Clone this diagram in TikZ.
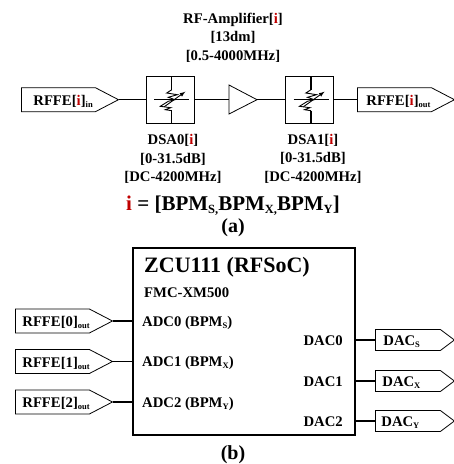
\documentclass[tikz,border=0pt]{standalone}
\usepackage{fontspec}
\setmainfont{Liberation Serif}
\usetikzlibrary{shapes.symbols}
\definecolor{idxred}{RGB}{192,0,0}
\newcommand{\fs}[1]{\fontsize{#1}{#1}\selectfont\bfseries}
\newcommand{\lowsub}[1]{\raisebox{-2.2pt}{\fontsize{8.5}{8.5}\selectfont\bfseries #1}}
\newcommand{\eqsub}[1]{\raisebox{-3pt}{\fontsize{12.5}{12.5}\selectfont\bfseries #1}}
\newcommand{\idx}{\textcolor{idxred}{i}}
\newcommand{\tagtxt}[3]{\raisebox{-5.5pt}[0pt][0pt]{\makebox[#1pt][l]{\hspace*{#2pt}#3}}}
\tikzset{
  x=1pt,y=-1pt,
  lbl/.style={inner sep=0pt,font=\fs{14.7},align=center,yshift=-1.5pt},
  lleft/.style={lbl,anchor=west},
  lright/.style={lbl,anchor=east},
  bigtag/.style={draw,line width=0.8pt,signal,signal to=east,signal pointer angle=55,minimum height=24pt,inner xsep=0pt,inner ysep=0pt,anchor=west,font=\fs{14.7}},
  smalltag/.style={draw,line width=0.8pt,signal,signal to=east,signal pointer angle=74,minimum height=21pt,inner xsep=0pt,inner ysep=0pt,anchor=west,font=\fs{14.7}},
  wire/.style={line width=1.3pt},
  dsabox/.style={draw,line width=0.9pt,minimum width=47.5pt,minimum height=47.5pt,inner sep=0pt},
  amp/.style={draw,line width=0.8pt},
}
\newcommand{\dsasym}[2]{%
  \begin{scope}[shift={(#1.center)}]
    \draw[line width=1.1pt] (1.5,-23.7) -- (1.5,-10) (1.5,23.7) -- (1.5,11);
    \draw[line width=#2] (-16,0) -- (19,0);
    \draw[line width=0.9pt,line join=miter] (1.5,-10) -- (-3.6,-6.7) -- (7,-5) -- (-2,-2.4) -- (4.7,0) -- (-2,1.6) -- (-10,6.6) -- (0.4,8) -- (-5,10) -- (1.5,11);
    \draw[line width=0.9pt,-{latex}] (-6,7) -- (15,-8);
  \end{scope}}
\begin{document}
\begin{tikzpicture}
\useasboundingbox (0,0) rectangle (454,464);
% (a)
\node[lbl] (amptxt) at (233,18) {RF-Amplifier[\idx]};
\node[lbl] (ampdb) at (233,36) {[13dm]};
\node[lbl] (ampf) at (233,55) {[0.5-4000MHz]};
\node[bigtag] (rfin) at (21,99.7) {\tagtxt{74}{12}{RFFE[\idx]\lowsub{in}}};
\node[dsabox] (dsa0) at (170.3,99.7) {};
\node[dsabox] (dsa1) at (309.5,99.7) {};
\coordinate (ampw) at (229,99.7);
\coordinate (ampe) at (257,99.7);
\draw[amp,fill=white] (229,85) -- (ampe) -- (229,114) -- cycle;
\node[bigtag] (rfout) at (357,99.7) {\tagtxt{74}{9}{RFFE[\idx]\lowsub{out}}};
\draw[wire] (rfin.east) -- (dsa0.west);
\draw[wire] (dsa0.east) -- (ampw);
\draw[wire] (ampe) -- (dsa1.west);
\draw[wire] (dsa1.east) -- (rfout.west);
\dsasym{dsa0}{0.8pt}
\dsasym{dsa1}{1.3pt}
\node[lbl] (d0a) at (173,139) {DSA0[\idx]};
\node[lbl] (d0b) at (173,158) {[0-31.5dB]};
\node[lbl] (d0c) at (173,176) {[DC-4200MHz]};
\node[lbl] (d1a) at (313,139) {DSA1[\idx]};
\node[lbl] (d1b) at (313,157) {[0-31.5dB]};
\node[lbl] (d1c) at (313,176) {[DC-4200MHz]};
\node[lbl,font=\fs{21}] (eq) at (233,204) {\textcolor{idxred}{i} = [BPM\eqsub{S,}BPM\eqsub{X,}BPM\eqsub{Y}]};
\node[lbl,font=\fs{20}] (capa) at (233,226) {(a)};
% (b)
\node[draw,line width=1.8pt,minimum width=222pt,minimum height=187pt,inner sep=0pt] (main) at (244,341.5) {};
\node[lleft,font=\fs{22}] (zcu) at (144,266) {ZCU111 (RFSoC)};
\node[lleft] (fmc) at (144,291) {FMC-XM500};
\node[lleft] (adc0) at (142,321) {ADC0 (BPM\lowsub{S})};
\node[lleft] (adc1) at (142,361.5) {ADC1 (BPM\lowsub{X})};
\node[lleft] (adc2) at (142,402) {ADC2 (BPM\lowsub{Y})};
\node[lright] (dac0) at (343,339.5) {DAC0};
\node[lright] (dac1) at (343,380.5) {DAC1};
\node[lright] (dac2) at (343,420.5) {DAC2};
\node[bigtag] (r0) at (15,321) {\tagtxt{74}{7}{RFFE[0]\lowsub{out}}};
\node[bigtag] (r1) at (15,361.5) {\tagtxt{74}{7}{RFFE[1]\lowsub{out}}};
\node[bigtag] (r2) at (15,402) {\tagtxt{74}{7}{RFFE[2]\lowsub{out}}};
\node[smalltag] (ds) at (375,340) {\tagtxt{65}{8}{DAC\lowsub{S}}};
\node[smalltag] (dx) at (375,381) {\tagtxt{65}{7}{DAC\lowsub{X}}};
\node[smalltag] (dy) at (375,421) {\tagtxt{65}{6}{DAC\lowsub{Y}}};
\foreach \a in {r0,r1,r2} \draw[wire] (\a.east) -- (\a.east -| main.west);
\foreach \a in {ds,dx,dy} \draw[wire] (\a.west) -- (\a.west -| main.east);
\node[lbl,font=\fs{20}] (capb) at (233,453) {(b)};
\end{tikzpicture}
\end{document}
